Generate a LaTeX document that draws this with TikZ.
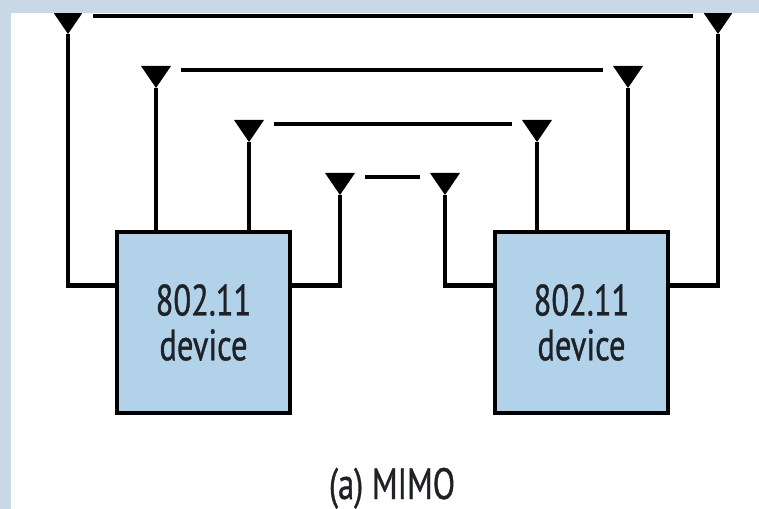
\documentclass[tikz,border=0pt]{standalone}
\usepackage{fontspec}
\usetikzlibrary{calc}

\newfontfamily\devfont{PT Sans}[FakeStretch=0.74, FakeBold=0.8]
\definecolor{devblue}{RGB}{178,210,234}
\definecolor{frameblue}{RGB}{200,216,230}
\definecolor{inkgray}{RGB}{30,34,38}

\newcommand{\antenna}[1]{\fill (#1) -- ++(-15,-22) -- ++(30,0) -- cycle;}

\tikzset{
    wire/.style = {line width = 2.6pt},
    device/.style = {draw, line width = 2.6pt, fill = devblue, text = inkgray,
        minimum width = 3.46cm, minimum height = 3.62cm, align = center,
        font = \devfont\fontsize{25}{25.5}\selectfont},
    caption/.style = {text = inkgray, font = \devfont\fontsize{25}{25.5}\selectfont}
}

\begin{document}
\begin{tikzpicture}[x = 0.02cm, y = -0.02cm]
    \useasboundingbox (0,0) rectangle (759,509);

    \coordinate (a1) at (68,34);
    \coordinate (a2) at (156,88);
    \coordinate (a3) at (249,142);
    \coordinate (a4) at (340,195);
    \coordinate (b4) at (445,195);
    \coordinate (b3) at (537,142);
    \coordinate (b2) at (628,88);
    \coordinate (b1) at (718,34);

    \node [device] (devl) at (203.5,322.5) {802.11\\device};
    \node [device] (devr) at (581.5,322.5) {802.11\\device};

    \draw [wire] (a1) |- ($(devl.north west)+(0,56)$);
    \draw [wire] (a2) -- (a2 |- devl.north);
    \draw [wire] (a3) -- (a3 |- devl.north);
    \draw [wire] (a4) |- ($(devl.north east)+(0,56)$);

    \draw [wire] (b4) |- ($(devr.north west)+(0,56)$);
    \draw [wire] (b3) -- (b3 |- devr.north);
    \draw [wire] (b2) -- (b2 |- devr.north);
    \draw [wire] (b1) |- ($(devr.north east)+(0,56)$);

    \antenna{a1} \antenna{a2} \antenna{a3} \antenna{a4}
    \antenna{b1} \antenna{b2} \antenna{b3} \antenna{b4}

    \draw [wire] ($(a1)+(25,-18)$) -- ($(b1)+(-25,-18)$);
    \draw [wire] ($(a2)+(25,-18)$) -- ($(b2)+(-25,-18)$);
    \draw [wire] ($(a3)+(25,-18)$) -- ($(b3)+(-25,-18)$);
    \draw [wire] ($(a4)+(25,-18)$) -- ($(b4)+(-25,-18)$);

    \node [caption, anchor = base] (cap) at (392,499) {(a) MIMO};

    \fill [frameblue] (0,0) rectangle (759,13);
    \fill [frameblue] (0,0) rectangle (11,509);
\end{tikzpicture}
\end{document}
